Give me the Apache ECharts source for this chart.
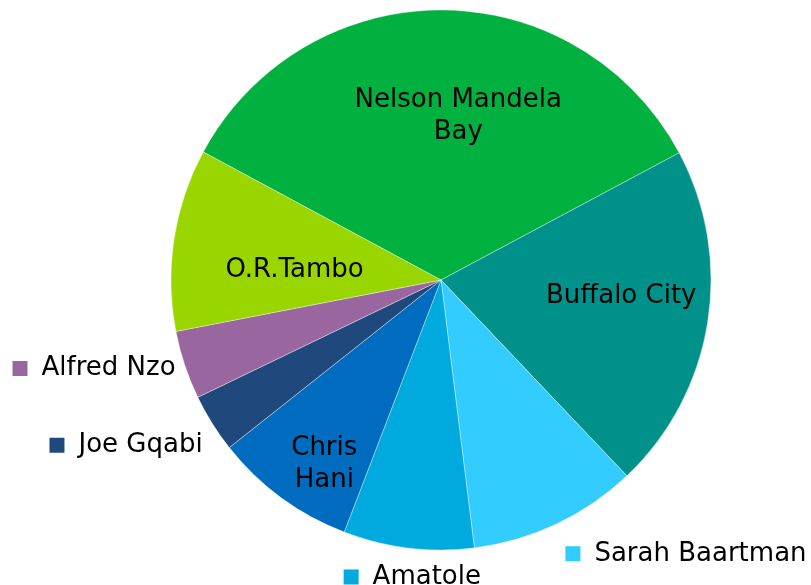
<!DOCTYPE html>
<html>
<head>
<meta charset="utf-8">
<script src="https://cdn.jsdelivr.net/npm/echarts@6/dist/echarts.min.js"></script>
<style>
html,body{margin:0;padding:0;background:#fff;}
#chart{width:811px;height:585px;}
</style>
</head>
<body>
<div id="chart"></div>
<script>
var categories = ['Nelson Mandela\nBay', 'Buffalo City', 'Sarah Baartman', 'Amatole', 'Chris\nHani', 'Joe Gqabi', 'Alfred Nzo', 'O.R.Tambo'];
var values = [34.3, 20.7, 10.1, 7.8, 8.5, 3.5, 4.1, 10.9];
var colors = ['#00B140', '#00928A', '#33CCFF', '#00AADF', '#006CBF', '#1F497D', '#9966A0', '#99D600'];
var outsideKey = [false, false, true, true, false, true, true, false];
// label offsets from the default inside label position (style, not data)
var labelShift = [[17, -26], [44, -6], [186, 149], [-12, 160], [-35, 73], [-198, 92], [-216, 45], [-10, 11]];

var chart = echarts.init(document.getElementById('chart'), null, {renderer: 'canvas'});
var data = categories.map(function (c, i) {
  var item = {name: c, value: values[i], itemStyle: {color: colors[i]}};
  if (outsideKey[i]) {
    item.label = {
      formatter: '{m|}{g|}{t|{b}}',
      rich: {
        m: {width: 15, height: 15, backgroundColor: colors[i]},
        g: {width: 14},
        t: {fontFamily: 'DejaVu Sans', fontSize: 26, color: '#000'}
      }
    };
  }
  return item;
});

chart.setOption({
  animation: false,
  series: [{
    type: 'pie',
    center: [441, 280],
    radius: [0, 270],
    startAngle: 151.7,
    clockwise: true,
    avoidLabelOverlap: false,
    itemStyle: {borderColor: 'rgba(255,255,255,0.6)', borderWidth: 0.6},
    emphasis: {disabled: true},
    label: {
      show: true,
      position: 'inside',
      formatter: '{b}',
      fontFamily: 'DejaVu Sans',
      fontSize: 26,
      lineHeight: 32,
      color: '#000',
      align: 'center'
    },
    labelLine: {show: false},
    labelLayout: function (params) {
      var s = labelShift[params.dataIndex];
      return {dx: s[0], dy: s[1]};
    },
    data: data
  }]
});
</script>
</body>
</html>
